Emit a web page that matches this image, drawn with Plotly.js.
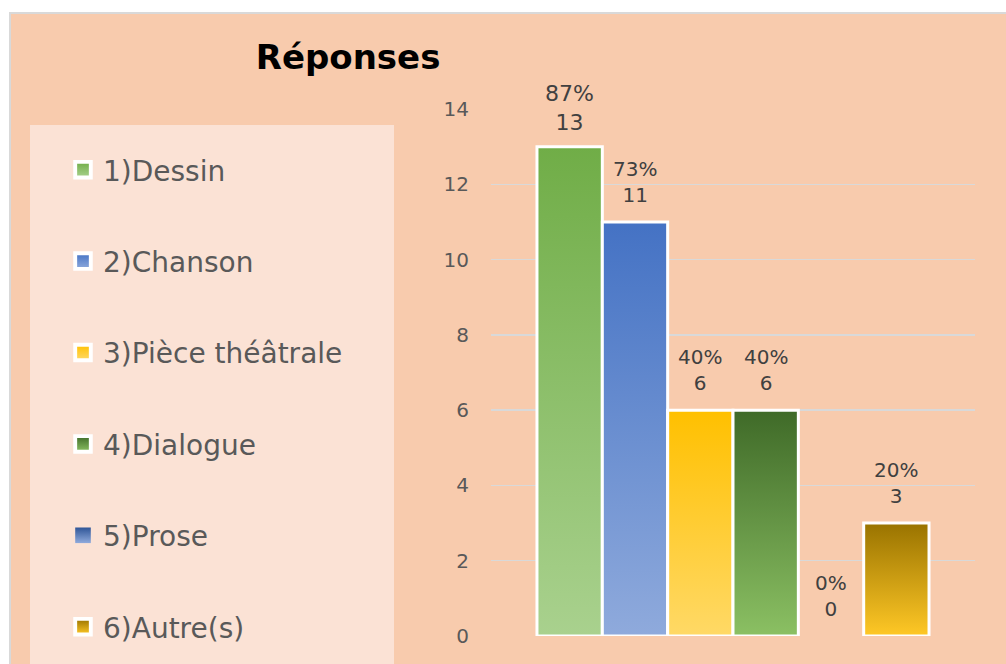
<!DOCTYPE html>
<html>
<head>
<meta charset="utf-8">
<script src="https://cdn.plot.ly/plotly-3.0.1.min.js"></script>
<style>
  html, body { margin: 0; padding: 0; background: #ffffff; }
  #chart { width: 1006px; height: 664px; }
</style>
</head>
<body>
<div id="chart"></div>
<script>
// chart data
const names = ["1)Dessin", "2)Chanson", "3)Pièce théâtrale", "4)Dialogue", "5)Prose", "6)Autre(s)"];
const counts = [13, 11, 6, 6, 0, 3];
const percents = ["87%", "73%", "40%", "40%", "0%", "20%"];
const category = ["Réponses"];

// gradient colours per series (top, bottom)
const gradTop = ["#70AD47", "#4472C4", "#FFC000", "#3F6A28", "#2F5597", "#997300"];
const gradBottom = ["#A9D18E", "#8FAADC", "#FFD966", "#8BC063", "#8FAADC", "#FFC826"];
const labelSizes = [22, 20, 20, 20, 20, 20];

const bargap = 0.19;
const chartDiv = document.getElementById("chart");

const traces = names.map((name, i) => ({
    type: 'bar',
    name: name,
    x: category,
    y: [counts[i]],
    legendgroup: 'g' + i,
    marker: { color: gradTop[i], line: { color: '#ffffff', width: counts[i] > 0 ? 3 : 0 } },
    hoverinfo: 'skip'
}));

// data labels above each bar of the group (positions in axis units)
const barWidth = (1 - bargap) / names.length;
const labels = names.map((name, i) => ({
    xref: 'x', yref: 'y',
    x: (i - (names.length - 1) / 2) * barWidth,
    y: counts[i],
    yanchor: 'bottom',
    yshift: i === 0 ? 10 : 13,
    showarrow: false,
    text: percents[i] + '<br>' + counts[i],
    font: { family: 'DejaVu Sans', size: labelSizes[i], color: '#404040' }
}));

// plot area spans x 491..975 px, y 109..636 px
const plotW = 484, plotH = 527, plotL = 491, plotB = 636;
const px = v => (v - plotL) / plotW;
const py = v => (plotB - v) / plotH;

const layout = {
    width: 1006,
    height: 664,
    margin: { l: plotL, r: 1006 - plotL - plotW, t: 109, b: 664 - plotB, autoexpand: false },
    paper_bgcolor: '#ffffff',
    plot_bgcolor: 'rgba(0,0,0,0)',
    barmode: 'group',
    bargap: bargap,
    bargroupgap: 0,
    showlegend: true,
    title: {
        text: '<b>Réponses</b>',
        font: { family: 'DejaVu Sans', size: 34, color: '#000000' },
        x: 0.346, xanchor: 'center',
        y: 0.914, yanchor: 'middle'
    },
    xaxis: {
        range: [-0.5, 0.5],
        showticklabels: false,
        showgrid: false,
        zeroline: false,
        fixedrange: true
    },
    yaxis: {
        range: [0, 14],
        dtick: 2,
        tick0: 0,
        showgrid: true,
        gridcolor: '#D9D9D9',
        gridwidth: 1.5,
        zeroline: false,
        ticks: '',
        tickfont: { family: 'DejaVu Sans', size: 20, color: '#595959' },
        ticklabelstandoff: 21,
        fixedrange: true
    },
    legend: {
        x: px(63), xanchor: 'left',
        y: py(145), yanchor: 'top',
        bgcolor: 'rgba(0,0,0,0)',
        font: { family: 'DejaVu Sans', size: 28, color: '#595959' },
        tracegroupgap: 52,
        itemwidth: 30,
        maxheight: 900,
        traceorder: 'grouped'
    },
    annotations: labels,
    shapes: [
        // chart area background
        { type: 'rect', xref: 'paper', yref: 'paper', layer: 'below',
          x0: px(10), x1: px(1020), y0: py(700), y1: py(13),
          fillcolor: '#F8CBAD', line: { color: '#D9D9D9', width: 2 } },
        // legend panel
        { type: 'rect', xref: 'paper', yref: 'paper', layer: 'below',
          x0: px(30), x1: px(394), y0: py(700), y1: py(125),
          fillcolor: '#FBE2D5', line: { width: 0 } }
    ]
};

// add vertical gradients to bars and legend symbols
function applyGradients() {
    const svg = chartDiv.querySelector('svg.main-svg');
    const ns = 'http://www.w3.org/2000/svg';
    let defs = svg.querySelector('defs');
    if (!defs) {
        defs = document.createElementNS(ns, 'defs');
        svg.insertBefore(defs, svg.firstChild);
    }
    gradTop.forEach((top, i) => {
        const g = document.createElementNS(ns, 'linearGradient');
        g.setAttribute('id', 'barGrad' + i);
        g.setAttribute('x1', '0'); g.setAttribute('y1', '0');
        g.setAttribute('x2', '0'); g.setAttribute('y2', '1');
        const s1 = document.createElementNS(ns, 'stop');
        s1.setAttribute('offset', '0'); s1.setAttribute('stop-color', top);
        const s2 = document.createElementNS(ns, 'stop');
        s2.setAttribute('offset', '1'); s2.setAttribute('stop-color', gradBottom[i]);
        g.appendChild(s1); g.appendChild(s2);
        defs.appendChild(g);
    });

    chartDiv.querySelectorAll('.barlayer .trace').forEach((tr, i) => {
        tr.querySelectorAll('path').forEach(p => { p.style.fill = 'url(#barGrad' + i + ')'; });
    });
    // legend swatches: gradient fill, a bit bigger like the original
    chartDiv.querySelectorAll('.legend .traces').forEach((tr, i) => {
        tr.querySelectorAll('.legendpoints path').forEach(p => {
            p.style.fill = 'url(#barGrad' + i + ')';
            const t = p.getAttribute('transform') || '';
            p.setAttribute('transform', t + ' scale(1.3)');
        });
    });
}

Plotly.newPlot(chartDiv, traces, layout, { staticPlot: true }).then(applyGradients);
</script>
</body>
</html>
